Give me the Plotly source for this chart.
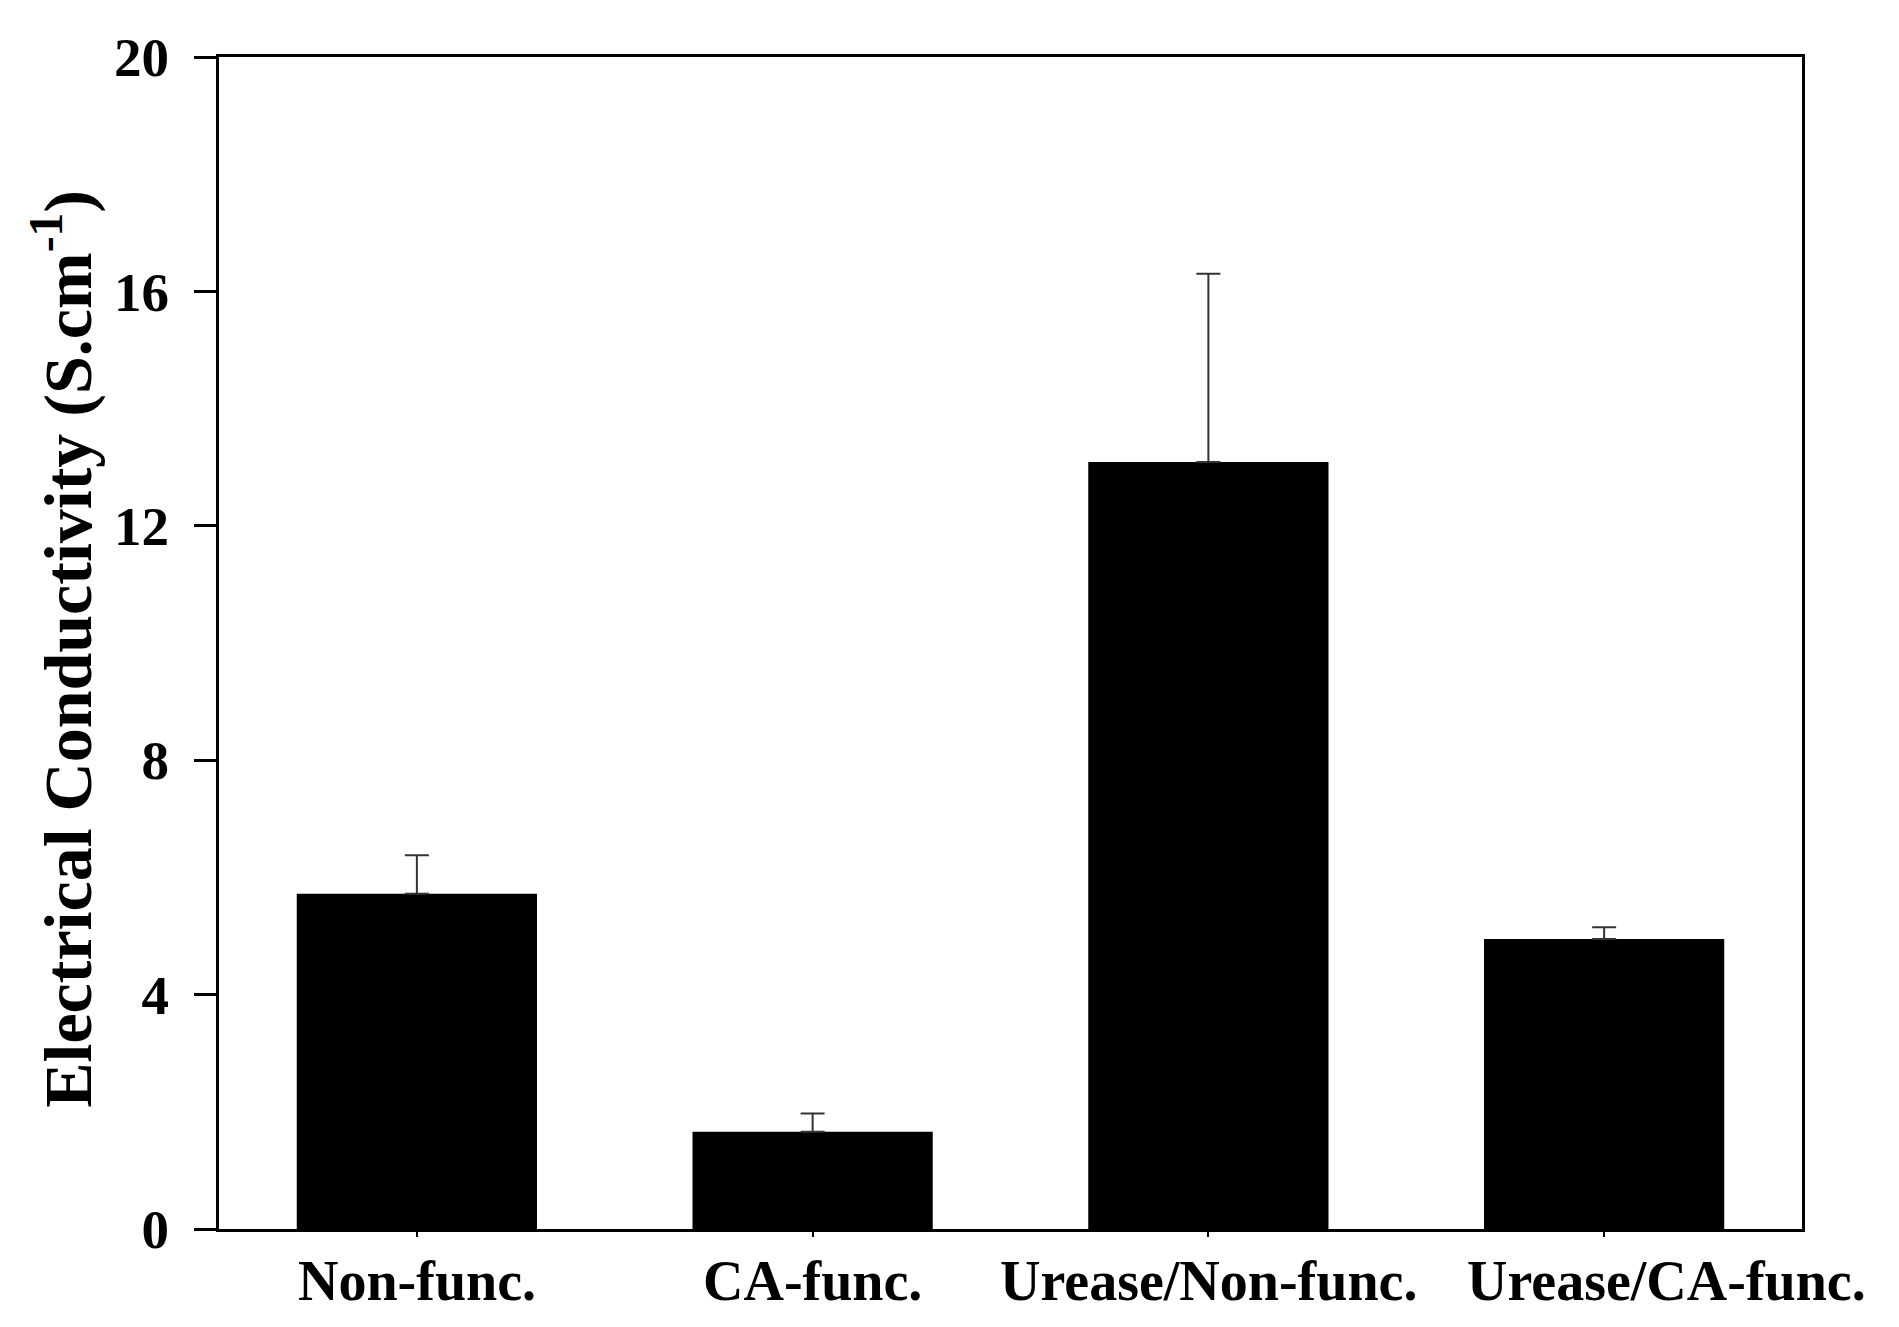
import plotly.graph_objects as go

samples = ['Non-func.', 'CA-func.', 'Urease/Non-func.', 'Urease/CA-func.']
conductivity = [5.72, 1.66, 13.09, 4.95]
std_dev = [0.66, 0.31, 3.21, 0.20]
no_err = [0, 0, 0, 0]

y_ticks = [0, 4, 8, 12, 16, 20]

serif = 'Liberation Serif'
W, H = 1899, 1327
L, R, T, B = 211, 105, 49, 106

fig = go.Figure(data=[go.Bar(
    x=samples,
    y=conductivity,
    width=0.607,
    marker=dict(color='black', line=dict(width=0)),
    error_y=dict(type='data', array=std_dev, arrayminus=no_err,
                 symmetric=False, color='#333333', thickness=2, width=12),
)])

# category labels as annotations: the last one sits off-centre in the original
label_shift = [0, 0, 0, 62]
for name, dx in zip(samples, label_shift):
    fig.add_annotation(x=name, y=0, xref='x', yref='y', text=name,
                       showarrow=False, yanchor='top', xshift=dx, yshift=-19,
                       font=dict(family=serif, size=56, color='black', weight='bold'))

# y-axis title
fig.add_annotation(x=(55 - L) / (W - L - R), y=0.495, xref='paper', yref='paper',
                   text='Electrical Conductivity (S.cm<sup>-1</sup>)',
                   textangle=-90, showarrow=False, xanchor='center', yanchor='middle',
                   font=dict(family=serif, size=68, color='black', weight='bold'))

fig.update_layout(
    width=W, height=H,
    margin=dict(l=L, r=R, t=T, b=B),
    plot_bgcolor='white', paper_bgcolor='white',
    showlegend=False,
    font=dict(family=serif, color='black'),
)

fig.update_xaxes(
    range=[-0.5, 3.5],
    showline=True, linecolor='black', linewidth=3, mirror=True,
    ticks='outside', ticklen=5, tickwidth=2, tickcolor='black',
    showticklabels=False,
    showgrid=False, zeroline=False,
)

fig.update_yaxes(
    range=[0, 20],
    tickvals=y_ticks,
    showline=True, linecolor='black', linewidth=3, mirror=True,
    ticks='outside', ticklen=22, tickwidth=3, tickcolor='black',
    tickfont=dict(family=serif, size=55, color='black', weight='bold'),
    ticklabelstandoff=14,
    showgrid=False, zeroline=False,
)

fig.write_html("out.html")
